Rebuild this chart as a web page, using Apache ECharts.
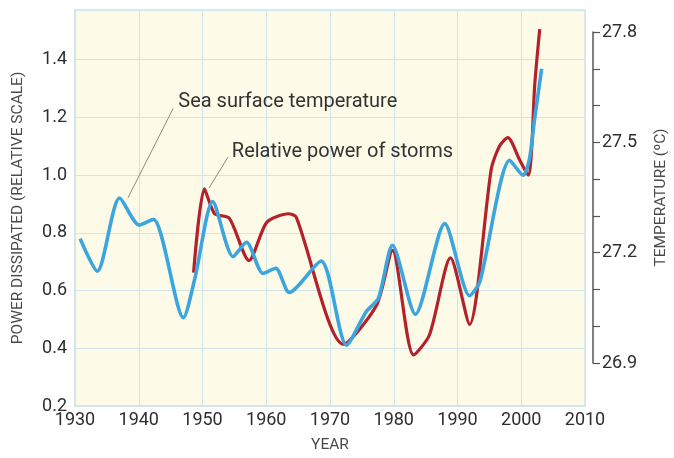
<!DOCTYPE html>
<html><head><meta charset="utf-8">
<script src="https://cdn.jsdelivr.net/npm/echarts@6/dist/echarts.min.js"></script>
<style>html,body{margin:0;padding:0;background:#fff}#c{width:674px;height:458px}</style>
</head><body><div id="c"></div>
<script>
// ---- data ----
const sstYears = [1930.8,1933.5,1937.0,1940.1,1942.3,1947.0,1948.8,1951.6,1954.8,1956.9,1959.5,1961.5,1963.6,1968.6,1972.6,1975.7,1977.6,1979.8,1983.4,1988.0,1991.9,1993.5,1998.2,2000.3,2001.3,2002.1,2003.2];
const sstTemps = [27.235,27.146,27.346,27.272,27.288,27.019,27.126,27.336,27.186,27.225,27.140,27.154,27.088,27.174,26.944,27.036,27.072,27.217,27.028,27.276,27.079,27.117,27.449,27.408,27.454,27.563,27.699];
const powerYears = [1948.6,1950.3,1951.9,1954.2,1957.3,1960.1,1963.5,1964.7,1972.1,1977.3,1979.8,1983.1,1985.6,1988.9,1991.9,1995.3,1996.6,1997.9,1999.7,2001.1,2001.6,2002.1,2002.9];
const powerValues = [0.662,0.952,0.866,0.851,0.704,0.837,0.866,0.854,0.414,0.549,0.739,0.377,0.446,0.713,0.483,1.021,1.101,1.130,1.055,1.000,1.079,1.308,1.506];
const yearTicks = [1930,1940,1950,1960,1970,1980,1990,2000,2010];
const powerTicks = [0.2,0.4,0.6,0.8,1.0,1.2,1.4];
const tempTicks = [26.9,27.2,27.5,27.8];

// ---- layout ----
const FONT = 'Roboto, "Liberation Sans", sans-serif';
const AX = { xMin: 1930, xMax: 2010, pMin: 0.2, pMax: 1.572, tMin: 26.7776, tMax: 27.8598 };
const annot = [
  { text: 'Sea surface temperature', at: [1946.2, 1.252], from: [1945.4, 1.231], to: [1938.3, 0.921] },
  { text: 'Relative power of storms', at: [1954.6, 1.080], from: [1954.0, 1.062], to: [1951.0, 0.955] }
];

const sstData = sstYears.map((y, i) => [y, sstTemps[i]]);
const powerData = powerYears.map((y, i) => [y, powerValues[i]]);

const chart = echarts.init(document.getElementById('c'), null, { renderer: 'canvas' });
const gridBlue = '#cfe5ec';
const labelColor = '#2e2e2e';
const titleColor = '#4a4a4a';
const option = {
  animation: false,
  textStyle: { fontFamily: FONT },
  grid: [
    { left: 75, right: 89, top: 10, bottom: 50, show: true, backgroundColor: '#fdfbe8', borderColor: gridBlue, borderWidth: 1.5 },
    { left: 560, right: 81, top: 32, bottom: 95 }
  ],
  xAxis: [
    { type: 'value', gridIndex: 0, min: AX.xMin, max: AX.xMax, interval: 10,
      axisLine: { show: true, onZero: false, lineStyle: { color: gridBlue, width: 1.5 } },
      axisTick: { show: false },
      axisLabel: { color: labelColor, fontSize: 18, margin: 5, fontFamily: FONT,
        formatter: v => yearTicks.includes(Math.round(v)) ? String(Math.round(v)) : '' },
      splitLine: { show: true, lineStyle: { color: gridBlue, width: 1 } },
      name: 'YEAR', nameLocation: 'middle', nameGap: 31,
      nameTextStyle: { color: titleColor, fontSize: 15.5, fontFamily: FONT } },
    { type: 'value', gridIndex: 1, show: false, min: 1, max: 2 }
  ],
  yAxis: [
    { type: 'value', gridIndex: 0, min: AX.pMin, max: AX.pMax, interval: 0.2, position: 'left',
      axisLine: { show: true, onZero: false, lineStyle: { color: gridBlue, width: 1.5 } },
      axisTick: { show: false },
      axisLabel: { color: labelColor, fontSize: 18, margin: 8, fontFamily: FONT, showMaxLabel: false,
        formatter: v => { const t = powerTicks.find(p => Math.abs(p - v) < 1e-6); return t !== undefined ? t.toFixed(1) : ''; } },
      splitLine: { show: true, lineStyle: { color: gridBlue, width: 1 } },
      name: 'POWER DISSIPATED (RELATIVE SCALE)', nameLocation: 'middle', nameGap: 49,
      nameTextStyle: { color: titleColor, fontSize: 15.5, fontFamily: FONT } },
    { type: 'value', gridIndex: 0, min: AX.tMin, max: AX.tMax, show: false, splitLine: { show: false } },
    { type: 'value', gridIndex: 1, min: 26.9, max: 27.8, interval: 0.1, position: 'right',
      axisLine: { show: true, onZero: false, lineStyle: { color: '#555', width: 1.5 } },
      axisTick: { show: true, inside: false, length: 7, lineStyle: { color: '#555', width: 1.2 } },
      axisLabel: { color: labelColor, fontSize: 18, margin: 9, fontFamily: FONT,
        formatter: v => { const t = tempTicks.find(p => Math.abs(p - v) < 1e-6); return t !== undefined ? t.toFixed(1) : ''; } },
      splitLine: { show: false },
      name: 'TEMPERATURE (ºC)', nameLocation: 'middle', nameGap: 60,
      nameTextStyle: { color: titleColor, fontSize: 15.5, fontFamily: FONT } }
  ],
  series: [
    { name: 'Relative power of storms', type: 'line', xAxisIndex: 0, yAxisIndex: 0, data: powerData,
      smooth: 0.25, showSymbol: false, lineStyle: { color: '#b3212a', width: 3.2 }, z: 3 },
    { name: 'Sea surface temperature', type: 'line', xAxisIndex: 0, yAxisIndex: 1, data: sstData,
      smooth: 0.25, showSymbol: false, lineStyle: { color: '#3ba5df', width: 3.6 }, z: 4 }
  ]
};
chart.setOption(option);

const px = p => chart.convertToPixel({ xAxisIndex: 0, yAxisIndex: 0 }, p);
const graphics = [];
annot.forEach(a => {
  const f = px(a.from), t = px(a.to), at = px(a.at);
  graphics.push({ type: 'line', shape: { x1: f[0], y1: f[1], x2: t[0], y2: t[1] }, style: { stroke: '#8a8a8a', lineWidth: 1 }, z: 10 });
  graphics.push({ type: 'text', x: at[0], y: at[1], style: { text: a.text, fill: '#333', font: '20px ' + FONT, verticalAlign: 'middle' }, z: 10 });
});
chart.setOption({ graphic: graphics });
</script>
</body></html>
